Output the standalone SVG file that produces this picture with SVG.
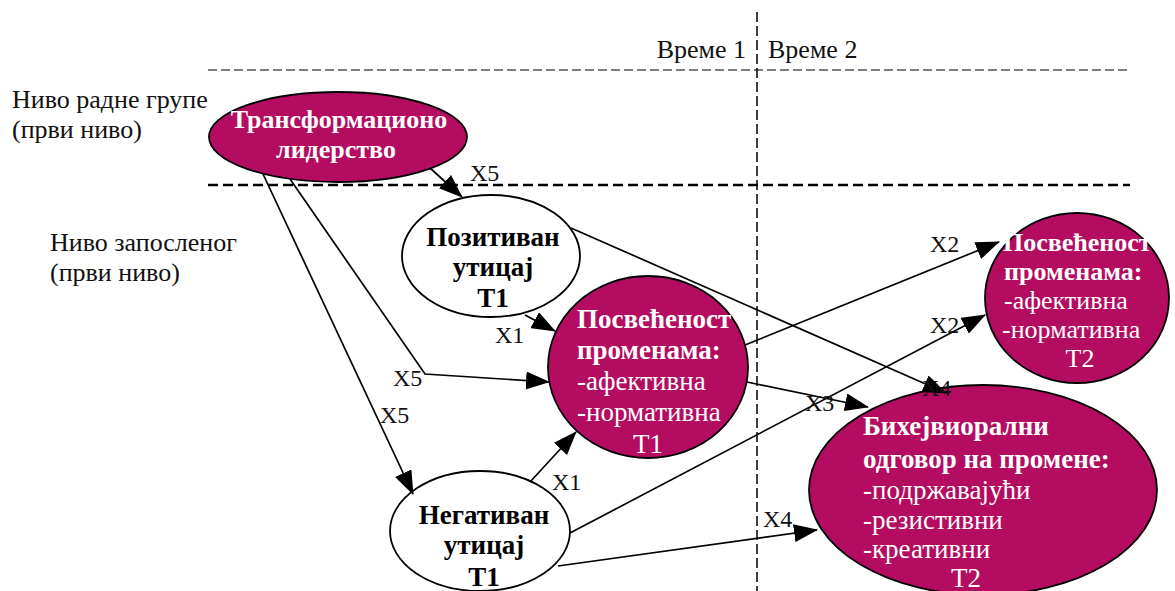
<svg xmlns="http://www.w3.org/2000/svg" width="1175" height="591" viewBox="0 0 1175 591">
<defs>
<marker id="ah" markerUnits="userSpaceOnUse" markerWidth="24" markerHeight="18" refX="23" refY="9" orient="auto">
<path d="M0,0 L24,9 L0,18 z" fill="#000"/>
</marker>
</defs>
<style>
text{font-family:"Liberation Serif","Times New Roman",serif;}
.lbl{font-size:26px;fill:#111;}
.x{font-size:24px;fill:#111;}
.m{fill:#B40C60;stroke:#000;stroke-width:1.8;}
.w{fill:#fff;stroke:#000;stroke-width:1.8;}
.wt{font-size:27px;fill:#fff;}
.s{font-size:26px;}
.bt{font-size:27px;fill:#000;font-weight:bold;}
.b{font-weight:bold;}
.c{fill:none;stroke:#000;stroke-width:1.7;marker-end:url(#ah);}
</style>
<rect width="1175" height="591" fill="#fff"/>
<g id="guides">
<line x1="208" y1="70" x2="1130" y2="70" stroke="#555" stroke-width="1.5" stroke-dasharray="9,4"/>
<line x1="208" y1="185" x2="1130" y2="185" stroke="#000" stroke-width="2.5" stroke-dasharray="10,5"/>
<line x1="757" y1="12" x2="757" y2="591" stroke="#000" stroke-width="1.5" stroke-dasharray="10,4"/>
<text class="lbl" x="746" y="58" text-anchor="end">Време 1</text>
<text class="lbl" x="768" y="58">Време 2</text>
<text class="lbl" x="12" y="108">Ниво радне групе</text>
<text class="lbl" x="12" y="138">(први ниво)</text>
<text class="lbl" x="50" y="251">Ниво запосленог</text>
<text class="lbl" x="50" y="281">(први ниво)</text>
</g>
<g id="n-trans">
<ellipse class="m" cx="338" cy="137" rx="129" ry="45"/>
<text class="wt s b" x="339" y="128" text-anchor="middle">Трансформационо</text>
<text class="wt s b" x="336" y="158" text-anchor="middle">лидерство</text>
</g>
<g id="n-pos">
<ellipse class="w" cx="491" cy="256" rx="89" ry="61"/>
<text class="bt" x="493" y="246" text-anchor="middle">Позитиван</text>
<text class="bt" x="493" y="276" text-anchor="middle">утицај</text>
<text class="bt" x="493" y="307" text-anchor="middle">Т1</text>
</g>
<g id="n-neg">
<ellipse class="w" cx="480" cy="531" rx="90" ry="60"/>
<text class="bt" x="484" y="524" text-anchor="middle">Негативан</text>
<text class="bt" x="484" y="554" text-anchor="middle">утицај</text>
<text class="bt" x="484" y="586" text-anchor="middle">Т1</text>
</g>
<g id="n-pc1">
<ellipse class="m" cx="648" cy="367" rx="100" ry="91"/>
<text class="wt b" x="577" y="328">Посвећеност</text>
<text class="wt b" x="577" y="359">променама:</text>
<text class="wt" x="577" y="390">-афективна</text>
<text class="wt" x="577" y="421">-нормативна</text>
<text class="wt" x="648" y="453" text-anchor="middle">Т1</text>
</g>
<g id="n-pc2">
<ellipse class="m" cx="1077" cy="298" rx="92" ry="85"/>
<text class="wt s b" x="1003" y="251">Посвећеност</text>
<text class="wt s b" x="1004" y="280">променама:</text>
<text class="wt s" x="1004" y="309">-афективна</text>
<text class="wt s" x="1002" y="338">-нормативна</text>
<text class="wt s" x="1080" y="367" text-anchor="middle">Т2</text>
</g>
<g id="n-beh">
<ellipse class="m" cx="983" cy="490" rx="174" ry="105"/>
<text class="wt b" x="863" y="435">Бихејвиорални</text>
<text class="wt b" x="863" y="468">одговор на промене:</text>
<text class="wt" x="863" y="499">-подржавајући</text>
<text class="wt" x="863" y="529">-резистивни</text>
<text class="wt" x="863" y="558">-креативни</text>
<text class="wt" x="966" y="587" text-anchor="middle">Т2</text>
</g>
<g id="connectors">
<path class="c" d="M430,168 L462,197"/>
<path class="c" d="M290,179 L425,374 L549,382"/>
<path class="c" d="M263,174 L413,494"/>
<path class="c" d="M525,315 L555,331"/>
<path class="c" d="M530,482 L576,432"/>
<path class="c" d="M571,228 L946,393"/>
<path class="c" d="M745,345 L999,242"/>
<path class="c" d="M570,533 L985,315"/>
<path class="c" d="M747,382 L868,407"/>
<path class="c" d="M558,566 L817,530"/>
<text class="x" x="470" y="181">X5</text>
<text class="x" x="393" y="386">X5</text>
<text class="x" x="380" y="423">X5</text>
<text class="x" x="495" y="343">X1</text>
<text class="x" x="552" y="490">X1</text>
<text class="x" x="930" y="252">X2</text>
<text class="x" x="930" y="333">X2</text>
<text class="x" x="805" y="411">X3</text>
<text class="x" x="922" y="396">X4</text>
<text class="x" x="763" y="527">X4</text>
</g>
</svg>
